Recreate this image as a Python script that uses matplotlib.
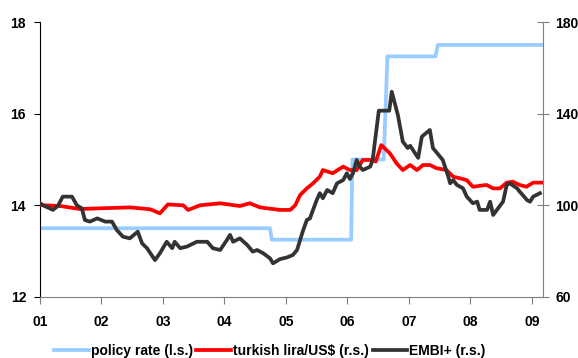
import numpy as np
import matplotlib
matplotlib.use("Agg")
import matplotlib.pyplot as plt

plt.rcParams['font.family'] = ['Liberation Sans', 'DejaVu Sans']
plt.rcParams['font.weight'] = 'bold'

# policy rate, left scale (%)
policy_t = [2001.00, 2004.74, 2004.77, 2006.06, 2006.08, 2006.59, 2006.65, 2007.43, 2007.47, 2009.18]
policy_v = [13.5, 13.5, 13.25, 13.25, 15.0, 15.0, 17.25, 17.25, 17.5, 17.5]

# turkish lira per US$, right scale (index)
lira_t = [2001.00, 2001.33, 2001.65, 2001.98, 2002.46, 2002.79, 2002.95, 2003.08, 2003.33,
          2003.41, 2003.60, 2003.93, 2004.25, 2004.41, 2004.58, 2004.90, 2005.07, 2005.15,
          2005.23, 2005.34, 2005.44, 2005.55, 2005.60, 2005.76, 2005.93, 2006.04, 2006.15,
          2006.25, 2006.41, 2006.46, 2006.55, 2006.69, 2006.80, 2006.90, 2007.02, 2007.13,
          2007.23, 2007.34, 2007.45, 2007.61, 2007.72, 2007.83, 2007.94, 2008.04, 2008.26,
          2008.37, 2008.48, 2008.59, 2008.69, 2008.80, 2008.91, 2009.02, 2009.18]
lira_v = [100.1, 99.7, 98.4, 98.7, 99.1, 98.3, 96.5, 100.4, 100.0,
          98.0, 100.0, 100.9, 99.7, 100.9, 99.1, 98.0, 98.0, 100.0,
          104.5, 107.4, 109.6, 112.5, 115.4, 114.0, 116.9, 115.4, 115.4,
          119.8, 119.8, 119.1, 126.3, 122.7, 118.3, 115.4, 117.6, 115.4,
          117.6, 117.6, 116.2, 115.4, 112.5, 111.8, 111.0, 108.1, 108.9,
          107.4, 107.4, 109.9, 110.3, 108.9, 108.1, 109.9, 109.9]

# EMBI+, right scale (index)
embi_t = [2001.00, 2001.05, 2001.21, 2001.29, 2001.37, 2001.52, 2001.60, 2001.68, 2001.73,
          2001.81, 2001.93, 2002.06, 2002.17, 2002.25, 2002.35, 2002.46, 2002.59, 2002.66,
          2002.74, 2002.87, 2002.95, 2003.06, 2003.15, 2003.19, 2003.28, 2003.39, 2003.55,
          2003.72, 2003.81, 2003.93, 2004.04, 2004.09, 2004.14, 2004.25, 2004.37, 2004.46,
          2004.53, 2004.63, 2004.74, 2004.79, 2004.90, 2005.02, 2005.11, 2005.18, 2005.23,
          2005.28, 2005.34, 2005.39, 2005.44, 2005.50, 2005.55, 2005.60, 2005.67, 2005.76,
          2005.83, 2005.93, 2005.99, 2006.04, 2006.09, 2006.15, 2006.20, 2006.25, 2006.37,
          2006.41, 2006.45, 2006.51, 2006.68, 2006.72, 2006.82, 2006.90, 2006.98, 2007.02,
          2007.15, 2007.21, 2007.34, 2007.39, 2007.55, 2007.64, 2007.67, 2007.72, 2007.78,
          2007.88, 2007.94, 2008.04, 2008.11, 2008.15, 2008.27, 2008.32, 2008.37, 2008.43,
          2008.53, 2008.59, 2008.64, 2008.76, 2008.80, 2008.85, 2008.92, 2008.97, 2009.02,
          2009.13]
embi_v = [101.0, 100.0, 98.0, 99.7, 103.8, 103.8, 100.0, 98.7, 93.6,
          92.9, 94.3, 92.9, 92.9, 89.2, 86.3, 85.6, 88.5, 83.4,
          81.3, 76.1, 79.1, 84.1, 81.3, 84.1, 81.3, 82.0, 84.1,
          84.1, 81.3, 80.5, 84.9, 87.1, 84.1, 85.6, 82.7, 79.8,
          80.5, 79.1, 76.9, 74.7, 76.5, 77.3, 78.3, 80.5, 84.9,
          89.2, 93.6, 94.3, 98.0, 102.3, 105.3, 103.1, 106.7, 105.3,
          109.6, 111.0, 114.0, 111.5, 114.0, 119.8, 116.9, 115.4, 116.9,
          119.8, 128.5, 141.3, 141.3, 149.6, 139.4, 127.8, 125.0, 126.0,
          120.7, 130.0, 132.9, 125.0, 119.8, 112.5, 109.6, 111.0, 108.9,
          107.4, 103.8, 100.9, 101.6, 98.0, 98.0, 101.6, 95.8, 98.0,
          101.6, 108.9, 109.6, 107.4, 106.0, 104.5, 102.3, 101.6, 103.8,
          105.3]

years = list(range(2001, 2010))
year_labels = ['01', '02', '03', '04', '05', '06', '07', '08', '09']

fig = plt.figure(figsize=(5.78, 3.58), dpi=100)
ax = fig.add_axes([40 / 578, 1 - 297 / 358, 503 / 578, 275 / 358])
ax2 = ax.twinx()

l1, = ax.plot(policy_t, policy_v, color='#99CCFF', lw=2.7)
l2, = ax2.plot(lira_t, lira_v, color='#FF0000', lw=2.7)
l3, = ax2.plot(embi_t, embi_v, color='#333333', lw=2.7)

ax.set_xlim(2001, 2009.18)
ax.set_ylim(12, 18)
ax2.set_ylim(60, 180)
ax.set_yticks([12, 14, 16, 18])
ax2.set_yticks([60, 100, 140, 180])
ax.set_xticks(years)
ax.set_xticklabels(year_labels)

ax.spines['top'].set_visible(False)
ax2.spines['top'].set_visible(False)
ax2.spines['left'].set_visible(False)
ax2.spines['bottom'].set_visible(False)
ax.spines['right'].set_visible(False)
ax.spines['left'].set_color('black')
ax.spines['bottom'].set_color('#808080')
ax2.spines['right'].set_color('#808080')

ax.tick_params(axis='y', direction='out', length=4, pad=6, labelsize=10, colors='black')
ax.tick_params(axis='x', direction='out', length=5, pad=8, labelsize=10, color='#808080')
ax2.tick_params(axis='y', direction='inout', length=8, pad=5, labelsize=10, color='#808080')
for lab in ax.get_xticklabels() + ax.get_yticklabels() + ax2.get_yticklabels():
    lab.set_fontweight('bold')

fig.legend([l1, l2, l3], ['policy rate (l.s.)', 'turkish lira/US$ (r.s.)', 'EMBI+ (r.s.)'],
           loc='center', bbox_to_anchor=(0.467, 0.02), ncol=3, frameon=False,
           handlelength=2.5, handletextpad=0.15, columnspacing=0.25,
           prop={'weight': 'bold', 'size': 10})

fig.savefig('out.png', dpi=100)
